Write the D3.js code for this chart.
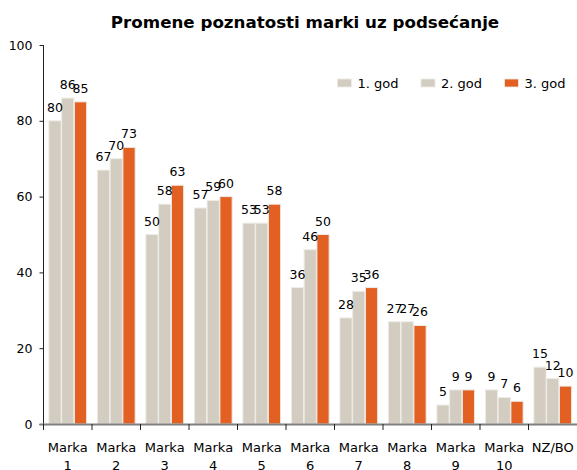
<!DOCTYPE html>
<html lang="en">
<head>
<meta charset="UTF-8">
<title>Promene poznatosti marki</title>
<script src="https://d3js.org/d3.v7.min.js"></script>
<style>
  html, body { margin:0; padding:0; background:#fff; overflow:hidden; }
  text { font-family:"DejaVu Sans", sans-serif; fill:#000; }
</style>
</head>
<body>
<div id="chart"></div>
<script>
const categories=["Marka 1","Marka 2","Marka 3","Marka 4","Marka 5","Marka 6","Marka 7","Marka 8","Marka 9","Marka 10","NZ/BO"];
const seriesNames=["1. god","2. god","3. god"];
const god1=[80,67,50,57,53,36,28,27,5,9,15];
const god2=[86,70,58,59,53,46,35,27,9,7,12];
const god3=[85,73,63,60,58,50,36,26,9,6,10];
const yTicks=[0,20,40,60,80,100];
const colors=["#d3cdc1","#d3cdc1","#e26022"];

const width=577,height=470;
const margin={top:45,right:0,bottom:46,left:43.5};
const series=[god1,god2,god3];

const svg=d3.select("#chart").append("svg")
  .attr("width",width).attr("height",height);

const x0=d3.scaleBand().domain(categories)
  .range([margin.left,width-margin.right]).paddingInner(0.2).paddingOuter(0.1);
const x1=d3.scaleBand().domain(seriesNames).range([0,x0.bandwidth()]).padding(0.04);
const y=d3.scaleLinear().domain([0,100]).range([height-margin.bottom,margin.top]);

// title
svg.append("text").attr("x",305).attr("y",28.3)
  .attr("text-anchor","middle").attr("font-weight","bold").attr("font-size",16.7)
  .text("Promene poznatosti marki uz podsećanje");

// bars
const groups=svg.append("g").selectAll("g").data(categories).join("g")
  .attr("transform",d=>"translate("+x0(d)+",0)");
groups.selectAll("rect")
  .data((d,i)=>seriesNames.map((s,j)=>({s:s,j:j,v:series[j][i]})))
  .join("rect")
  .attr("x",d=>x1(d.s)).attr("width",x1.bandwidth())
  .attr("y",d=>y(d.v)).attr("height",d=>y(0)-y(d.v))
  .attr("fill",d=>colors[d.j]).attr("stroke","#efece7").attr("stroke-width",1);
groups.selectAll("text.val")
  .data((d,i)=>seriesNames.map((s,j)=>({s:s,j:j,v:series[j][i]})))
  .join("text").attr("class","val")
  .attr("x",d=>x1(d.s)+x1.bandwidth()/2).attr("y",d=>y(d.v)-9)
  .attr("text-anchor","middle").attr("font-size",12.5)
  .text(d=>d.v);

// y axis
const yAxis=svg.append("g").attr("transform","translate("+margin.left+",0)")
  .call(d3.axisLeft(y).tickValues(yTicks).tickSize(4).tickPadding(7));
yAxis.select(".domain").attr("stroke","#222").attr("d","M0,"+y(100)+"V"+y(0));
yAxis.selectAll(".tick line").attr("stroke","#222");
yAxis.selectAll("text").attr("font-size",12.5).attr("font-family","DejaVu Sans");

// x axis
const xg=svg.append("g");
xg.append("line").attr("x1",margin.left-4).attr("x2",width)
  .attr("y1",y(0)+0.5).attr("y2",y(0)+0.5).attr("stroke","#7f7f7f").attr("stroke-width",2);
xg.selectAll("line.tk").data(d3.range(categories.length)).join("line").attr("class","tk")
  .attr("x1",i=>x0(categories[i])-x0.step()*x0.paddingOuter())
  .attr("x2",i=>x0(categories[i])-x0.step()*x0.paddingOuter())
  .attr("y1",y(0)).attr("y2",y(0)+6).attr("stroke","#222");
const lab=xg.selectAll("text").data(categories).join("text")
  .attr("x",d=>x0(d)+x0.bandwidth()/2).attr("y",y(0)+28)
  .attr("text-anchor","middle").attr("font-size",13);
lab.each(function(d){
  const parts=d.split(" ");
  const t=d3.select(this);
  parts.forEach((p,k)=>t.append("tspan").attr("x",x0(d)+x0.bandwidth()/2)
    .attr("dy",k?18:0).text(p));
});

// legend
const lx=[337.5,421,504.5];
const leg=svg.append("g").selectAll("g").data(seriesNames).join("g")
  .attr("transform",(d,i)=>"translate("+lx[i]+",79)");
leg.append("rect").attr("width",14).attr("height",8)
  .attr("fill",(d,i)=>colors[i]).attr("stroke","#efece7").attr("stroke-width",0.8);
leg.append("text").attr("x",20).attr("y",8.5).attr("font-size",13).text(d=>d);
</script>
</body>
</html>
